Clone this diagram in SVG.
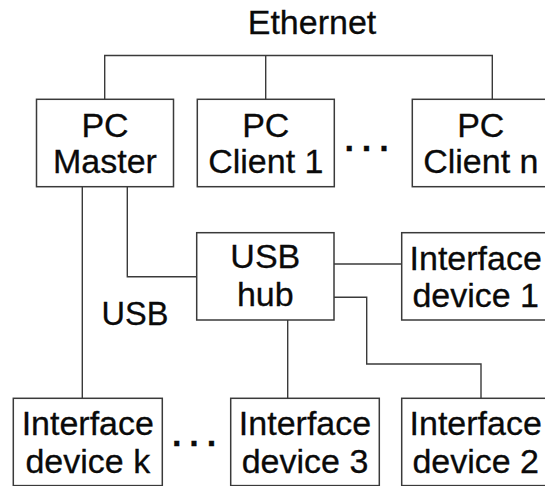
<svg xmlns="http://www.w3.org/2000/svg" width="545" height="486" viewBox="0 0 545 486">
<style>
.box{fill:#fff;stroke:#3a3a3a;stroke-width:1.5}
.wire{fill:none;stroke:#3a3a3a;stroke-width:1.4}
text{font-family:"Liberation Sans",Arial,sans-serif;fill:#0a0a0a;stroke:#0a0a0a;stroke-width:0.3;text-anchor:middle}
.t{font-size:34px}
.eth{font-size:34px}
.usb{font-size:32.5px}
.dots{font-size:34px;font-weight:bold;letter-spacing:6px}
</style>
<rect width="545" height="486" fill="#fff"/>
<g id="connectors">
<path class="wire" d="M104.7,99.3 V55.5 H492.3 V99.3"/>
<path class="wire" d="M265.7,55.5 V99.3"/>
<path class="wire" d="M82.3,186.7 V398.3"/>
<path class="wire" d="M127.3,186.7 V276.7 H196.7"/>
<path class="wire" d="M334,264 H401.7"/>
<path class="wire" d="M334,297.3 H366.7 V364 H481 V398.3"/>
<path class="wire" d="M287.7,320 V398.3"/>
</g>
<g id="labels">
<text class="eth" x="312" y="33.5">Ethernet</text>
<text class="usb" x="135" y="324.5">USB</text>
<text class="dots" x="370.5" y="160">···</text>
<text class="dots" x="198" y="455">···</text>
</g>
<g id="pc-master">
<rect class="box" x="36.5" y="99.3" width="137" height="87.4"/>
<text class="t" x="105" y="136.5">PC</text>
<text class="t" x="105" y="173.3">Master</text>
</g>
<g id="pc-client-1">
<rect class="box" x="197.3" y="99.3" width="137" height="87.4"/>
<text class="t" x="265.8" y="136.5">PC</text>
<text class="t" x="265.8" y="173.3">Client 1</text>
</g>
<g id="pc-client-n">
<rect class="box" x="412.3" y="99.3" width="137" height="87.4"/>
<text class="t" x="480.8" y="136.5">PC</text>
<text class="t" x="480.8" y="173.3">Client n</text>
</g>
<g id="usb-hub">
<rect class="box" x="196.7" y="232.7" width="137.3" height="87.3"/>
<text class="t" x="265.3" y="268">USB</text>
<text class="t" x="265.3" y="306">hub</text>
</g>
<g id="interface-device-1">
<rect class="box" x="401.7" y="232.7" width="148" height="87.3"/>
<text class="t" x="475.7" y="269.5">Interface</text>
<text class="t" x="475.7" y="306.5">device 1</text>
</g>
<g id="interface-device-k">
<rect class="box" x="13.3" y="398.3" width="149" height="87.3"/>
<text class="t" x="87.8" y="435">Interface</text>
<text class="t" x="87.8" y="472.7">device k</text>
</g>
<g id="interface-device-3">
<rect class="box" x="230.7" y="398.3" width="148.6" height="87.3"/>
<text class="t" x="305" y="435">Interface</text>
<text class="t" x="305" y="472.7">device 3</text>
</g>
<g id="interface-device-2">
<rect class="box" x="401.7" y="398.3" width="148" height="87.3"/>
<text class="t" x="475.7" y="435">Interface</text>
<text class="t" x="475.7" y="472.7">device 2</text>
</g>
</svg>
